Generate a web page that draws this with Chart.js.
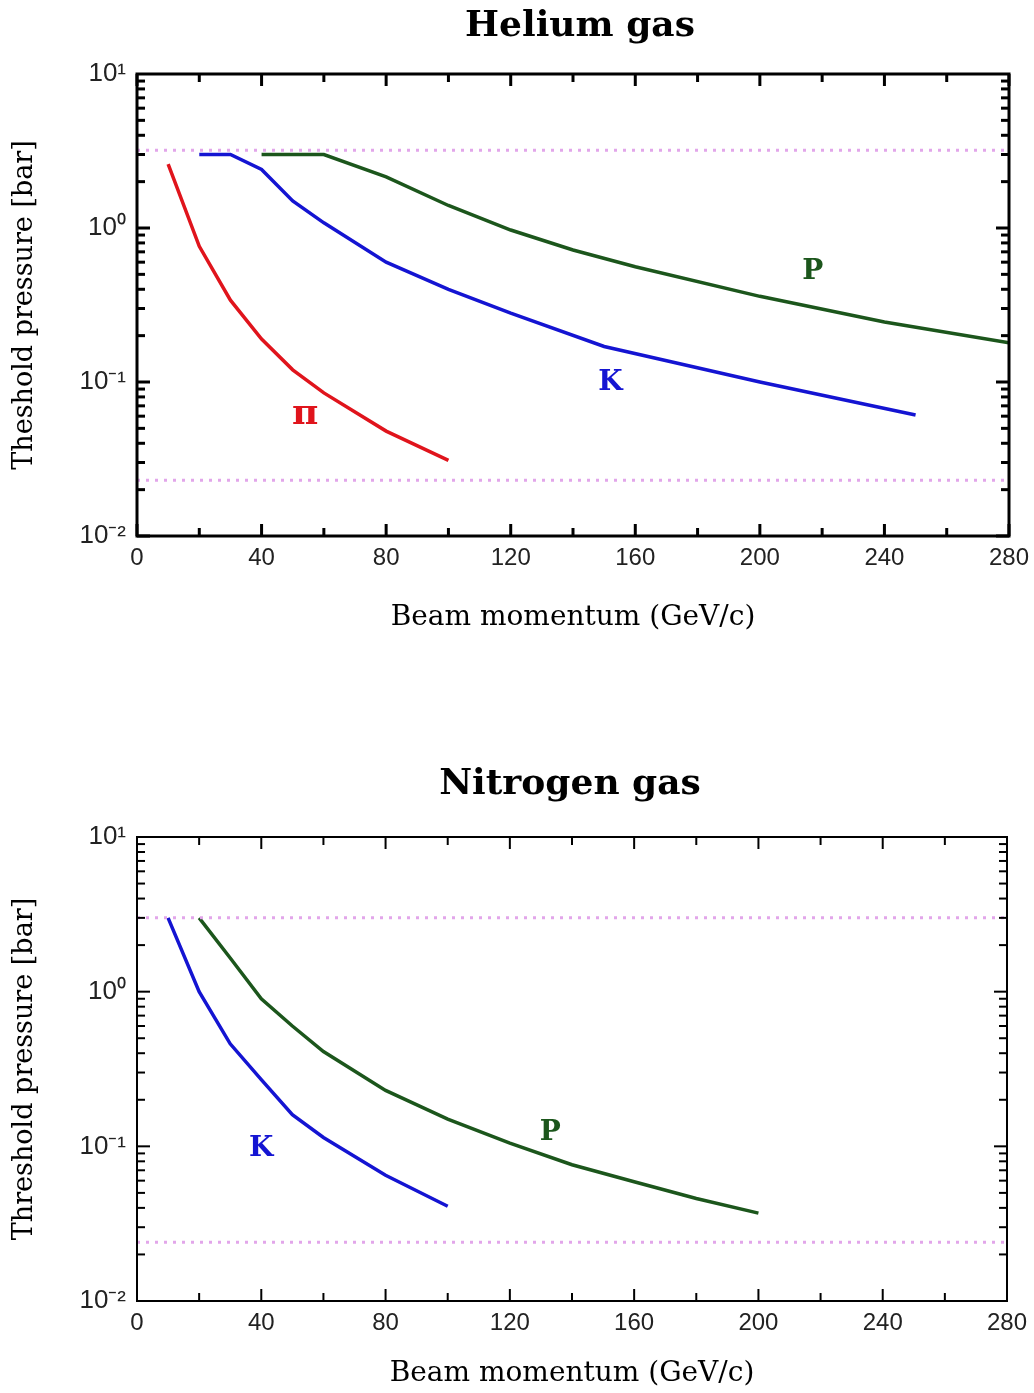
<!DOCTYPE html>
<html>
<head>
<meta charset="utf-8">
<script src="https://cdn.jsdelivr.net/npm/chart.js@4.4.0/dist/chart.umd.min.js"></script>
<style>
  body { margin: 0; background: #fff; width: 1034px; height: 1393px; position: relative; overflow: hidden; }
  canvas { position: absolute; left: 0; }
  #heliumChart { top: 0; }
  #nitrogenChart { top: 740px; }
</style>
</head>
<body>
<canvas id="heliumChart" width="1034" height="660"></canvas>
<canvas id="nitrogenChart" width="1034" height="653"></canvas>
<script>
// --- data (momentum in GeV/c, threshold pressure in bar) ---
const xTicks = [0, 40, 80, 120, 160, 200, 240, 280];
const yTickValues = [0.01, 0.1, 1, 10];
const yTickLabels = ['10\u207B\u00B2', '10\u207B\u00B9', '10\u2070', '10\u00B9'];

// Helium
const heliumPionP = [10, 20, 30, 40, 50, 60, 80, 100];
const heliumPion = [2.6, 0.76, 0.34, 0.19, 0.12, 0.085, 0.048, 0.031];
const heliumKaonP = [20, 30, 40, 50, 60, 80, 100, 120, 150, 200, 250];
const heliumKaon = [3.0, 3.0, 2.4, 1.5, 1.08, 0.6, 0.4, 0.28, 0.17, 0.1, 0.061];
const heliumProtonP = [40, 60, 80, 100, 120, 140, 160, 200, 240, 280];
const heliumProton = [3.0, 3.0, 2.15, 1.4, 0.97, 0.72, 0.56, 0.36, 0.245, 0.18];
const heliumLimits = [3.2, 0.023];

// Nitrogen
const nitrogenKaonP = [10, 20, 30, 40, 50, 60, 80, 100];
const nitrogenKaon = [3.0, 1.0, 0.46, 0.27, 0.16, 0.114, 0.065, 0.041];
const nitrogenProtonP = [20, 30, 40, 50, 60, 80, 100, 120, 140, 160, 180, 200];
const nitrogenProton = [3.0, 1.65, 0.9, 0.6, 0.41, 0.23, 0.15, 0.105, 0.076, 0.059, 0.046, 0.037];
const nitrogenLimits = [3.0, 0.024];

const limitRange = [0, 280];

const RED = '#e0141c', BLUE = '#1414d2', GREEN = '#1c561c', PINK = '#e2a6ea';

const pts = (xs, ys) => xs.map((x, i) => ({ x: x, y: ys[i] }));

function curve(label, xs, ys, color) {
  return { label: label, data: pts(xs, ys), borderColor: color, borderWidth: 3.5,
           pointRadius: 0, tension: 0, fill: false };
}
function limitLine(v) {
  return { label: 'limit', data: pts(limitRange, [v, v]), borderColor: PINK, borderWidth: 3,
           borderDash: [3, 6], pointRadius: 0, fill: false };
}

// frame, inward ticks, curve labels and title
const framePlugin = {
  id: 'frame',
  afterDatasetsDraw(chart, args, o) {
    const { ctx, chartArea: a, scales: { x, y } } = chart;
    ctx.save();
    ctx.strokeStyle = '#000';
    ctx.lineWidth = o.tickWidth;
    const seg = (x1, y1, x2, y2) => { ctx.beginPath(); ctx.moveTo(x1, y1); ctx.lineTo(x2, y2); ctx.stroke(); };
    for (let v = 0; v <= 280; v += 20) {
      const px = x.getPixelForValue(v);
      const len = v % 40 === 0 ? 12 : 8;
      seg(px, a.bottom, px, a.bottom - len);
      seg(px, a.top, px, a.top + len);
    }
    [0.01, 0.1, 1].forEach(d => {
      for (let m = 1; m <= 9; m++) {
        const py = y.getPixelForValue(d * m);
        const len = m === 1 ? 13 : 8;
        seg(a.left, py, a.left + len, py);
        seg(a.right, py, a.right - len, py);
      }
    });
    ctx.lineWidth = o.frameWidth;
    ctx.strokeRect(a.left, a.top, a.right - a.left, a.bottom - a.top);

    ctx.textAlign = 'center';
    ctx.textBaseline = 'middle';
    o.notes.forEach(n => {
      ctx.font = 'bold ' + (n.text === '\u03C0' ? 36 : 28) + 'px "DejaVu Serif"';
      ctx.fillStyle = n.color;
      ctx.fillText(n.text, x.getPixelForValue(n.x), y.getPixelForValue(n.y));
    });
    ctx.fillStyle = '#000';
    ctx.font = 'bold 36px "DejaVu Serif"';
    ctx.fillText(o.title, (a.left + a.right) / 2 + o.titleShift, o.titleY);
    ctx.restore();
  }
};

function makeChart(id, datasets, opts) {
  const canvas = document.getElementById(id);
  return new Chart(canvas.getContext('2d'), {
    type: 'line',
    data: { datasets: datasets },
    plugins: [framePlugin],
    options: {
      responsive: false,
      animation: false,
      layout: { autoPadding: false, padding: { top: opts.top, right: opts.right, left: 0, bottom: 0 } },
      plugins: {
        legend: { display: false },
        tooltip: { enabled: false },
        frame: opts.frame
      },
      scales: {
        x: {
          type: 'linear', min: 0, max: 280,
          afterBuildTicks: s => { s.ticks = xTicks.map(v => ({ value: v })); },
          afterFit: s => { s.height = canvas.height - opts.bottom; s.paddingRight = 0; },
          grid: { display: false, drawTicks: false },
          border: { display: false },
          ticks: { color: '#222', padding: 8, font: { family: '"Liberation Sans Narrow", "Liberation Sans"', size: 24 } },
          title: { display: true, text: 'Beam momentum (GeV/c)', color: '#000',
                   font: { family: '"DejaVu Serif"', size: 28 }, padding: { top: 0, bottom: opts.xTitlePad } }
        },
        y: {
          type: 'logarithmic', min: 0.01, max: 10,
          afterBuildTicks: s => { s.ticks = yTickValues.map(v => ({ value: v })); },
          afterFit: s => { s.width = 137; },
          grid: { display: false, drawTicks: false },
          border: { display: false },
          ticks: { color: '#222', padding: 11, autoSkip: false,
                   callback: v => yTickLabels[yTickValues.indexOf(v)],
                   font: { family: '"Liberation Sans Narrow", "Liberation Sans"', size: 26 } },
          title: { display: true, text: opts.yTitle, color: '#000',
                   font: { family: '"DejaVu Serif"', size: 27 }, padding: { top: 9, bottom: 0 } }
        }
      }
    }
  });
}

makeChart('heliumChart', [
  limitLine(heliumLimits[0]),
  limitLine(heliumLimits[1]),
  curve('\u03C0', heliumPionP, heliumPion, RED),
  curve('K', heliumKaonP, heliumKaon, BLUE),
  curve('P', heliumProtonP, heliumProton, GREEN)
], {
  top: 74, right: 25, bottom: 536, xTitlePad: 25,
  yTitle: 'Theshold pressure [bar]',
  frame: {
    title: 'Helium gas', titleY: 27, titleShift: 7, frameWidth: 3, tickWidth: 3,
    notes: [
      { text: '\u03C0', x: 54, y: 0.061, color: RED },
      { text: 'K', x: 152, y: 0.099, color: BLUE },
      { text: 'P', x: 217, y: 0.52, color: GREEN }
    ]
  }
});

makeChart('nitrogenChart', [
  limitLine(nitrogenLimits[0]),
  limitLine(nitrogenLimits[1]),
  curve('K', nitrogenKaonP, nitrogenKaon, BLUE),
  curve('P', nitrogenProtonP, nitrogenProton, GREEN)
], {
  top: 97, right: 27, bottom: 561, xTitlePad: 2,
  yTitle: 'Threshold pressure [bar]',
  frame: {
    title: 'Nitrogen gas', titleY: 45, titleShift: -2, frameWidth: 2, tickWidth: 2,
    notes: [
      { text: 'K', x: 40, y: 0.097, color: BLUE },
      { text: 'P', x: 133, y: 0.123, color: GREEN }
    ]
  }
});
</script>
</body>
</html>
